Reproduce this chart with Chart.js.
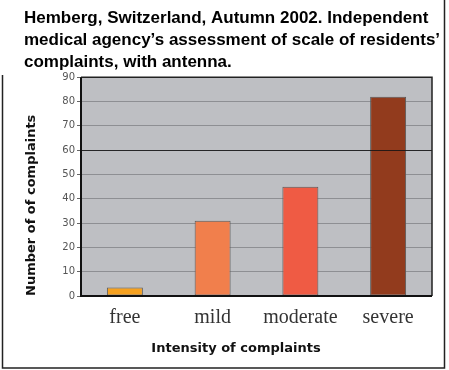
<!DOCTYPE html>
<html>
<head>
<meta charset="utf-8">
<script src="https://cdn.jsdelivr.net/npm/chart.js@4/dist/chart.umd.min.js"></script>
<style>
  html, body { margin: 0; padding: 0; background: #fff; }
  #wrap { width: 449px; height: 370px; position: relative; }
</style>
</head>
<body>
<div id="wrap"><canvas id="chart" width="449" height="370"></canvas></div>
<script>
// data
const categories = ['free', 'mild', 'moderate', 'severe'];
const complaints = [3.5, 31, 45, 82];
const barColors = ['#f6a11f', '#f17f4c', '#ef5b44', '#923b1d'];
const yTicks = [0, 10, 20, 30, 40, 50, 60, 70, 80, 90];
const referenceLine = 60;
const titleLines = [
    'Hemberg, Switzerland, Autumn 2002. Independent',
    'medical agency\u2019s assessment of scale of residents\u2019',
    'complaints, with antenna.'
];

// plot background, frame and the dark 60 line
const framePlugin = {
    id: 'frame',
    beforeDraw(chart) {
        const { ctx, chartArea: a } = chart;
        ctx.save();
        ctx.fillStyle = '#bebfc3';
        ctx.fillRect(a.left, a.top, a.right - a.left, a.bottom - a.top);
        ctx.restore();
    },
    afterDatasetsDraw(chart) {
        const { ctx, chartArea: a, scales } = chart;
        const y = scales.y.getPixelForValue(referenceLine);
        ctx.save();
        ctx.strokeStyle = 'rgba(20,20,20,0.85)';
        ctx.lineWidth = 1;
        ctx.beginPath();
        ctx.moveTo(a.left, Math.round(y) + 0.5);
        ctx.lineTo(a.right, Math.round(y) + 0.5);
        ctx.stroke();
        // top and right edge of the plot
        ctx.strokeStyle = '#222';
        ctx.lineWidth = 1.5;
        ctx.beginPath();
        ctx.moveTo(a.left, a.top);
        ctx.lineTo(a.right, a.top);
        ctx.lineTo(a.right, a.bottom);
        ctx.stroke();
        // left and bottom axis lines
        ctx.strokeStyle = '#111';
        ctx.lineWidth = 2;
        ctx.beginPath();
        ctx.moveTo(a.left, a.top);
        ctx.lineTo(a.left, a.bottom);
        ctx.lineTo(a.right, a.bottom);
        ctx.stroke();
        ctx.restore();
    },
    afterDraw(chart) {
        const { ctx, width, height } = chart;
        ctx.save();
        ctx.strokeStyle = '#222';
        ctx.lineWidth = 1.5;
        ctx.beginPath();
        ctx.moveTo(2.5, 75);
        ctx.lineTo(2.5, height - 2);
        ctx.lineTo(width - 4.5, height - 2);
        ctx.lineTo(width - 4.5, 0);
        ctx.stroke();
        ctx.restore();
    }
};

const ctx = document.getElementById('chart').getContext('2d');
const chart = new Chart(ctx, {
    type: 'bar',
    data: {
        labels: categories,
        datasets: [{
            label: 'Number of complaints',
            data: complaints,
            backgroundColor: barColors,
            borderColor: '#5a5a5a',
            borderWidth: 1,
            borderSkipped: false,
            categoryPercentage: 1,
            barPercentage: 0.41
        }]
    },
    options: {
        responsive: false,
        animation: false,
        layout: { padding: { left: 24, right: 1, top: 0, bottom: 0 } },
        plugins: {
            legend: { display: false },
            tooltip: { enabled: false },
            title: {
                display: true,
                text: titleLines,
                align: 'start',
                color: '#000',
                font: { family: '"Liberation Sans", Arial, sans-serif', size: 17, weight: 'bold', lineHeight: 1.3 },
                padding: { top: 7, bottom: 4 }
            },
            subtitle: {
                display: true,
                position: 'bottom',
                text: 'Intensity of complaints',
                color: '#111',
                font: { family: '"DejaVu Sans", Verdana, sans-serif', size: 13, weight: 'bold', lineHeight: 1.2 },
                padding: { top: 0, bottom: 14 }
            }
        },
        scales: {
            x: {
                grid: { display: false, drawTicks: false },
                border: { display: false },
                ticks: {
                    color: '#333',
                    padding: 10,
                    font: { family: '"Liberation Serif", "Times New Roman", serif', size: 20 }
                },
                afterFit: s => { s.height = 44.4; }
            },
            y: {
                min: 0,
                max: 90,
                afterBuildTicks: s => { s.ticks = yTicks.map(v => ({ value: v })); },
                grid: {
                    color: '#8e8f93',
                    lineWidth: 1,
                    tickLength: 4,
                    tickColor: '#666'
                },
                border: { display: false },
                ticks: {
                    color: '#555',
                    padding: 2,
                    font: { family: '"DejaVu Sans", Verdana, sans-serif', size: 10 }
                },
                title: {
                    display: true,
                    text: 'Number of of complaints',
                    align: 'start',
                    color: '#111',
                    padding: { top: 0, bottom: 0 },
                    font: { family: '"DejaVu Sans", Verdana, sans-serif', size: 13, weight: 'bold', lineHeight: 1.2 }
                },
                afterFit: s => { s.width = 57; }
            },
            yR: {
                position: 'right',
                display: true,
                grid: { display: false },
                border: { display: false },
                ticks: { display: false },
                afterFit: s => { s.width = 16; }
            }
        }
    },
    plugins: [framePlugin]
});
</script>
</body>
</html>
